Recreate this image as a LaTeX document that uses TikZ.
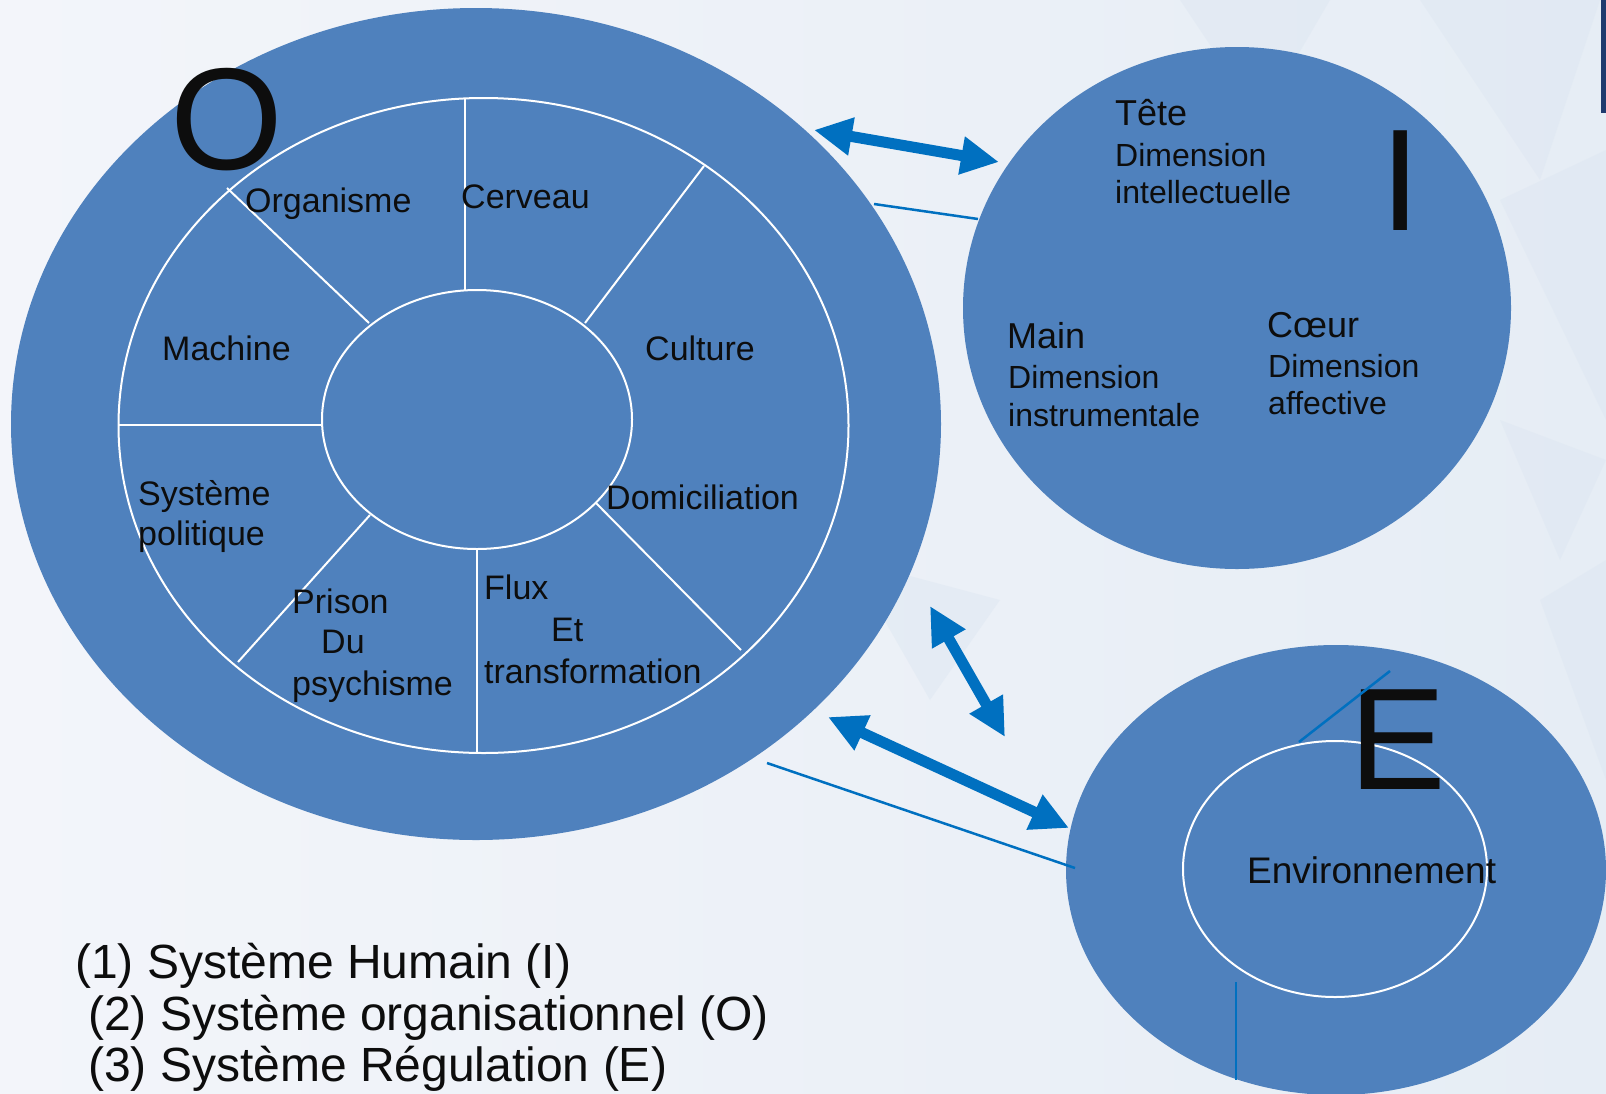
\documentclass[tikz,border=0pt]{standalone}
\usepackage{fontspec}
\setmainfont{Liberation Sans}
\usetikzlibrary{arrows.meta,shapes.geometric}
\definecolor{bgA}{HTML}{F3F5FA}
\definecolor{bgB}{HTML}{E6EDF5}
\definecolor{poly}{HTML}{DCE6F1}
\definecolor{fillblue}{HTML}{4F81BD}
\definecolor{arrowblue}{HTML}{0070C0}
\definecolor{navy}{HTML}{1F3A6E}
\definecolor{txt}{HTML}{0D0D0D}
\begin{document}
\begin{tikzpicture}[x=1pt,y=-1pt,
  disc/.style={ellipse, fill=fillblue, inner sep=0pt, outer sep=0pt},
  ring/.style={ellipse, draw=white, line width=2pt, inner sep=0pt, outer sep=0pt},
  spoke/.style={draw=white, line width=2pt},
  thinline/.style={draw=arrowblue, line width=2.5pt},
  dbl/.style={draw=arrowblue, line width=11pt, {Triangle[length=38pt,width=36pt]}-{Triangle[length=38pt,width=36pt]}},
  lbl/.style={anchor=base west, inner sep=0pt, text=txt, font=\fontsize{34}{40}\selectfont},
  head/.style={anchor=base west, inner sep=0pt, text=txt, font=\fontsize{36}{42}\selectfont},
  sub/.style={anchor=base west, inner sep=0pt, text=txt, font=\fontsize{32}{38}\selectfont},
  legend/.style={anchor=base west, inner sep=0pt, text=txt, font=\fontsize{48}{54}\selectfont},
  big/.style={inner sep=0pt, text=txt, font=\fontsize{145}{150}\selectfont}
]
% background
\useasboundingbox (0,0) rectangle (1606,1093);
\shade[left color=bgA, right color=bgB] (0,0) rectangle (1606,1093);
\begin{scope}[fill=poly, opacity=0.45]
  \fill (1180,0) -- (1330,0) -- (1260,120) -- cycle;
  \fill (1420,0) -- (1600,0) -- (1540,180) -- cycle;
  \fill (1500,200) -- (1606,150) -- (1606,420) -- cycle;
  \fill (1500,420) -- (1606,460) -- (1560,560) -- cycle;
  \fill (850,560) -- (1000,600) -- (930,700) -- cycle;
  \fill (1540,600) -- (1606,560) -- (1606,780) -- cycle;
\end{scope}
\fill[navy] (1601,0) rectangle (1606,113);

% O system
\node[disc, minimum width=930pt, minimum height=832pt] (O) at (476,424) {};
\node[ring, minimum width=730pt, minimum height=655pt] (Omid) at (483.5,425.5) {};
\node[ring, minimum width=310pt, minimum height=259pt] (Oin) at (477,419.5) {};
\draw[spoke] (465,99) -- (465,290);
\draw[spoke] (477,550) -- (477,753);
\draw[spoke] (119,425) -- (321,425);
\draw[spoke] (227,188) -- (369,323);
\draw[spoke] (704,166) -- (585,323);
\draw[spoke] (370,515) -- (238,662);
\draw[spoke] (596,503) -- (741,650);

\node[big] (Obig) at (227,120) {O};
\node[lbl] (organisme) at (245,212) {Organisme};
\node[lbl] (cerveau) at (461,208) {Cerveau};
\node[lbl] (machine) at (162,360) {Machine};
\node[lbl] (culture) at (645,360) {Culture};
\node[lbl] (systeme) at (138,505) {Système};
\node[lbl] (politique) at (138,545) {politique};
\node[lbl] (domic) at (606,509) {Domiciliation};
\node[lbl] (prison) at (292,613) {Prison};
\node[lbl] (du) at (321,653) {Du};
\node[lbl] (psy) at (292,695) {psychisme};
\node[lbl] (flux) at (484,599) {Flux};
\node[lbl] (et) at (551,641) {Et};
\node[lbl] (transf) at (484,683) {transformation};

% I system
\node[disc, minimum width=548pt, minimum height=522pt] (I) at (1237,308) {};
\node[big] (Ibig) at (1401,181) {I};
\node[head] (tete) at (1115,125) {Tête};
\node[sub] (tete1) at (1115,166) {Dimension};
\node[sub] (tete2) at (1115,203) {intellectuelle};
\node[head] (main) at (1007,348) {Main};
\node[sub] (main1) at (1008,388) {Dimension};
\node[sub] (main2) at (1008,426) {instrumentale};
\node[head] (coeur) at (1267,337) {Cœur};
\node[sub] (coeur1) at (1268,377) {Dimension};
\node[sub] (coeur2) at (1268,414) {affective};

% E system
\node[disc, minimum width=540pt, minimum height=450pt] (E) at (1336,870) {};
\node[ring, minimum width=304pt, minimum height=256pt] (Ein) at (1335,869) {};
\node[big] (Ebig) at (1398,740) {E};
\node[anchor=base west, inner sep=0pt, text=txt, font=\fontsize{37}{42}\selectfont] (env) at (1247,883) {Environnement};

% thin lines
\coordinate (t1a) at (874,204); \coordinate (t1b) at (978,219);
\coordinate (t2a) at (767,763); \coordinate (t2b) at (1075,868);
\coordinate (t3a) at (1299,742); \coordinate (t3b) at (1390,671);
\coordinate (t4a) at (1236,982); \coordinate (t4b) at (1236,1080);
\draw[thinline] (t1a) -- (t1b);
\draw[thinline] (t2a) -- (t2b);
\draw[thinline] (t3a) -- (t3b);
\draw[thinline] (t4a) -- (t4b);

% double arrows
\coordinate (a1a) at (814,130); \coordinate (a1b) at (999,162);
\coordinate (a2a) at (930,606); \coordinate (a2b) at (1005,737);
\coordinate (a3a) at (828,717); \coordinate (a3b) at (1069,828);
\draw[dbl] (a1a) -- (a1b);
\draw[dbl] (a2a) -- (a2b);
\draw[dbl] (a3a) -- (a3b);

% legend
\node[legend] (leg1) at (75,978) {(1) Système Humain (I)};
\node[legend] (leg2) at (88,1030) {(2) Système organisationnel (O)};
\node[legend] (leg3) at (88,1081) {(3) Système Régulation (E)};
\end{tikzpicture}
\end{document}
